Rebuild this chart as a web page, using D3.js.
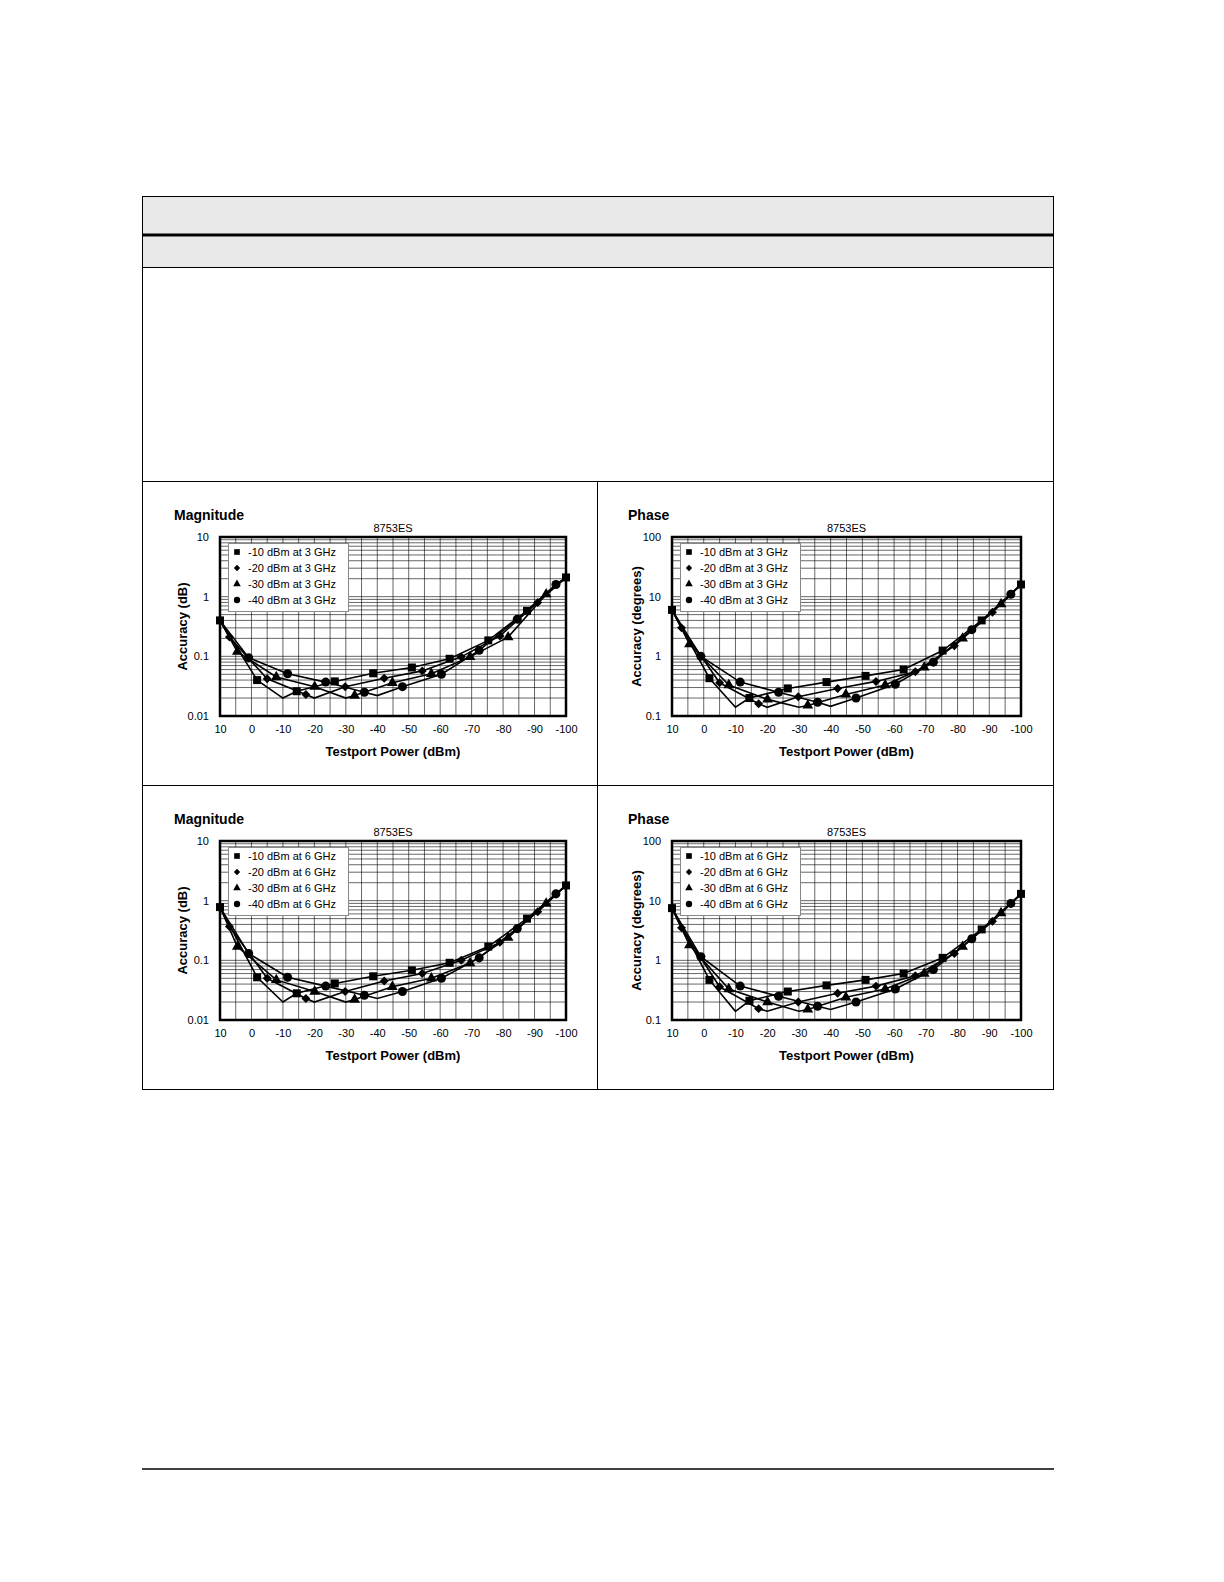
<!DOCTYPE html>
<html><head><meta charset="utf-8">
<script src="https://cdn.jsdelivr.net/npm/d3@7"></script>
<style>
html,body{margin:0;padding:0;overflow:hidden;background:#fff;font-family:Arial,"Liberation Sans",sans-serif;}
svg{display:block;}
svg text{font-family:Arial,"Liberation Sans",sans-serif;}
</style></head><body>
<svg id="page" width="1224" height="1582"></svg>
<script>
// ---- données ----
let xTicks = [10, 0, -10, -20, -30, -40, -50, -60, -70, -80, -90, -100];
let seriesNames = ["-10 dBm", "-20 dBm", "-30 dBm", "-40 dBm"];

// positions x (dBm) de chaque série ; m = point avec marqueur
let xSquare   = [10, -1.8, -10, -14.4, -26.5, -38.7, -51, -63, -75.3, -87.6, -100];
let mSquare   = [1, 1, 0, 1, 1, 1, 1, 1, 1, 1, 1];
let xDiamond  = [10, 7, -5, -17.3, -20, -29.8, -42.2, -54.3, -66.7, -79, -91, -100];
let mDiamond  = [0, 1, 1, 1, 0, 1, 1, 1, 1, 1, 1, 0];
let xTriangle = [10, 4.5, -7.9, -20.1, -30, -32.8, -44.8, -57.2, -69.5, -81.6, -93.7, -100];
let mTriangle = [0, 1, 1, 1, 0, 1, 1, 1, 1, 1, 1, 0];
let xCircle   = [10, 0.9, -11.5, -23.6, -35.9, -40, -48, -60.4, -72.4, -84.5, -96.8, -100];
let mCircle   = [0, 1, 1, 1, 1, 0, 1, 1, 1, 1, 1, 0];

// Magnitude 3 GHz
let mag3Square   = [0.4, 0.04, 0.02, 0.026, 0.038, 0.052, 0.065, 0.091, 0.185, 0.58, 2.1];
let mag3Diamond  = [0.4, 0.21, 0.042, 0.023, 0.02, 0.031, 0.043, 0.057, 0.098, 0.22, 0.8, 2.1];
let mag3Triangle = [0.4, 0.12, 0.045, 0.031, 0.02, 0.022, 0.036, 0.051, 0.098, 0.21, 1.1, 2.1];
let mag3Circle   = [0.4, 0.095, 0.051, 0.037, 0.025, 0.022, 0.031, 0.05, 0.126, 0.42, 1.6, 2.1];
// Phase 3 GHz
let ph3Square   = [6, 0.43, 0.14, 0.2, 0.29, 0.37, 0.47, 0.6, 1.25, 4, 16];
let ph3Diamond  = [6, 3, 0.36, 0.16, 0.14, 0.21, 0.29, 0.38, 0.55, 1.5, 5.5, 16];
let ph3Triangle = [6, 1.6, 0.33, 0.19, 0.14, 0.15, 0.23, 0.33, 0.65, 2.0, 7.5, 16];
let ph3Circle   = [6, 1.0, 0.37, 0.25, 0.17, 0.145, 0.2, 0.34, 0.8, 2.8, 11, 16];
// Magnitude 6 GHz
let mag6Square   = [0.78, 0.052, 0.02, 0.028, 0.041, 0.054, 0.068, 0.091, 0.17, 0.5, 1.8];
let mag6Diamond  = [0.78, 0.37, 0.05, 0.023, 0.02, 0.03, 0.045, 0.06, 0.1, 0.2, 0.65, 1.8];
let mag6Triangle = [0.78, 0.17, 0.047, 0.03, 0.02, 0.022, 0.036, 0.05, 0.09, 0.24, 0.9, 1.8];
let mag6Circle   = [0.78, 0.13, 0.052, 0.037, 0.026, 0.023, 0.03, 0.05, 0.11, 0.34, 1.3, 1.8];
// Phase 6 GHz
let ph6Square   = [7.5, 0.47, 0.14, 0.21, 0.3, 0.38, 0.47, 0.6, 1.1, 3.3, 13];
let ph6Diamond  = [7.5, 3.5, 0.36, 0.155, 0.14, 0.2, 0.28, 0.37, 0.55, 1.3, 4.5, 13];
let ph6Triangle = [7.5, 1.8, 0.33, 0.2, 0.14, 0.15, 0.24, 0.33, 0.6, 1.7, 6.2, 13];
let ph6Circle   = [7.5, 1.15, 0.37, 0.25, 0.17, 0.15, 0.2, 0.33, 0.7, 2.3, 9, 13];

// ---- page ----
let svg = d3.select("#page");

// cadre du tableau
svg.append("rect").attr("x", 142.5).attr("y", 196.5).attr("width", 911).attr("height", 38).attr("fill", "#e8e8e8");
svg.append("rect").attr("x", 142.5).attr("y", 236.5).attr("width", 911).attr("height", 31).attr("fill", "#e8e8e8");
svg.append("rect").attr("x", 142.5).attr("y", 196.5).attr("width", 911).attr("height", 893)
  .attr("fill", "none").attr("stroke", "#000");
svg.append("line").attr("x1", 142).attr("x2", 1054).attr("y1", 235).attr("y2", 235).attr("stroke", "#000").attr("stroke-width", 3);
svg.append("line").attr("x1", 142).attr("x2", 1054).attr("y1", 267.5).attr("y2", 267.5).attr("stroke", "#000");
svg.append("line").attr("x1", 142).attr("x2", 1054).attr("y1", 481.5).attr("y2", 481.5).attr("stroke", "#000");
svg.append("line").attr("x1", 142).attr("x2", 1054).attr("y1", 785.5).attr("y2", 785.5).attr("stroke", "#000");
svg.append("line").attr("x1", 597.5).attr("x2", 597.5).attr("y1", 481).attr("y2", 1089).attr("stroke", "#000");
// ligne de pied de page
svg.append("line").attr("x1", 142).attr("x2", 1054).attr("y1", 1469).attr("y2", 1469).attr("stroke", "#000").attr("stroke-width", 1.5);

// symboles (losange = carré tourné de 45°)
let SYMS = [d3.symbolSquare, d3.symbolSquare, d3.symbolTriangle, d3.symbolCircle];
let ROTS = [0, 45, 0, 0];
let SIZES = [64, 40, 50, 64];

function drawChart(opt){
  let g = svg.append("g");
  let x = d3.scaleLinear().domain([10, -100]).range([opt.left, opt.right]);
  let y = d3.scaleLog().domain(opt.yDomain).range([opt.bottom, opt.top]);

  // grille verticale tous les 5 dBm
  g.selectAll("line.vg").data(d3.range(5, -100, -5)).join("line")
    .attr("x1", d => x(d)).attr("x2", d => x(d))
    .attr("y1", opt.top).attr("y2", opt.bottom)
    .attr("stroke", "#000").attr("stroke-width", 0.6);
  // grille horizontale log
  let minor = [];
  for (let dec = opt.yDomain[0]; dec < opt.yDomain[1]; dec *= 10)
    for (let k = 1; k < 10; k++) minor.push(dec * k);
  g.selectAll("line.hg").data(minor).join("line")
    .attr("x1", opt.left).attr("x2", opt.right)
    .attr("y1", d => y(d)).attr("y2", d => y(d))
    .attr("stroke", "#000").attr("stroke-width", 0.6);

  // axes (labels seulement)
  let ax = g.append("g").attr("transform", `translate(0,${opt.bottom + 6})`)
    .call(d3.axisBottom(x).tickValues(xTicks).tickSize(0).tickFormat(d => d));
  ax.select(".domain").remove();
  ax.selectAll("text").attr("font-size", 11).attr("fill", "#000");
  let yTicks = [];
  for (let v = opt.yDomain[0]; v <= opt.yDomain[1] * 1.001; v *= 10) yTicks.push(v);
  let ay = g.append("g").attr("transform", `translate(${opt.left - 8},0)`)
    .call(d3.axisLeft(y).tickValues(yTicks).tickSize(0).tickFormat(d => +d.toPrecision(1)));
  ay.select(".domain").remove();
  ay.selectAll("text").attr("font-size", 11).attr("fill", "#000");

  // séries
  let line = d3.line().x(d => x(d[0])).y(d => y(d[1]));
  opt.series.forEach((s, i) => {
    let pts = s.xs.map((xv, j) => [xv, s.ys[j], s.ms[j]]);
    g.append("path").attr("d", line(pts)).attr("fill", "none")
      .attr("stroke", "#000").attr("stroke-width", 1.6);
    g.selectAll(null).data(pts.filter(p => p[2])).join("path")
      .attr("transform", p => `translate(${x(p[0])},${y(p[1])}) rotate(${ROTS[i]})`)
      .attr("d", d3.symbol().type(SYMS[i]).size(SIZES[i]))
      .attr("fill", "#000");
  });

  // cadre du graphe
  g.append("rect").attr("x", opt.left).attr("y", opt.top)
    .attr("width", opt.right - opt.left).attr("height", opt.bottom - opt.top)
    .attr("fill", "none").attr("stroke", "#000").attr("stroke-width", 2.5);

  // légende
  let lg = g.append("g");
  lg.append("rect").attr("x", opt.left + 8.5).attr("y", opt.top + 6.5)
    .attr("width", 120).attr("height", 68).attr("fill", "#fff").attr("stroke", "#888");
  seriesNames.forEach((n, i) => {
    let yy = opt.top + 15 + i * 16;
    lg.append("path").attr("transform", `translate(${opt.left + 17},${yy}) rotate(${ROTS[i]})`)
      .attr("d", d3.symbol().type(SYMS[i]).size(SIZES[i] * 0.5)).attr("fill", "#000");
    lg.append("text").attr("x", opt.left + 28).attr("y", yy + 4)
      .attr("font-size", 11).text(`${n} at ${opt.ghz} GHz`);
  });

  // titres
  g.append("text").attr("x", opt.titleX).attr("y", opt.top - 17)
    .attr("font-size", 14).attr("font-weight", "bold").text(opt.title);
  g.append("text").attr("x", (opt.left + opt.right) / 2).attr("y", opt.top - 5)
    .attr("font-size", 11).attr("text-anchor", "middle").text("8753ES");
  g.append("text").attr("x", (opt.left + opt.right) / 2).attr("y", opt.bottom + 40)
    .attr("font-size", 13).attr("font-weight", "bold").attr("text-anchor", "middle")
    .text("Testport Power (dBm)");
  g.append("text")
    .attr("transform", `translate(${opt.titleX + 13},${(opt.top + opt.bottom) / 2}) rotate(-90)`)
    .attr("font-size", 13).attr("font-weight", "bold").attr("text-anchor", "middle")
    .text(opt.yTitle);
}

function mk(sq, di, tr, ci){
  return [
    { xs: xSquare, ms: mSquare, ys: sq },
    { xs: xDiamond, ms: mDiamond, ys: di },
    { xs: xTriangle, ms: mTriangle, ys: tr },
    { xs: xCircle, ms: mCircle, ys: ci }
  ];
}

drawChart({ left: 220, right: 566, top: 537, bottom: 716, titleX: 174, title: "Magnitude",
  yTitle: "Accuracy (dB)", yDomain: [0.01, 10], ghz: 3,
  series: mk(mag3Square, mag3Diamond, mag3Triangle, mag3Circle) });
drawChart({ left: 672, right: 1021, top: 537, bottom: 716, titleX: 628, title: "Phase",
  yTitle: "Accuracy (degrees)", yDomain: [0.1, 100], ghz: 3,
  series: mk(ph3Square, ph3Diamond, ph3Triangle, ph3Circle) });
drawChart({ left: 220, right: 566, top: 841, bottom: 1020, titleX: 174, title: "Magnitude",
  yTitle: "Accuracy (dB)", yDomain: [0.01, 10], ghz: 6,
  series: mk(mag6Square, mag6Diamond, mag6Triangle, mag6Circle) });
drawChart({ left: 672, right: 1021, top: 841, bottom: 1020, titleX: 628, title: "Phase",
  yTitle: "Accuracy (degrees)", yDomain: [0.1, 100], ghz: 6,
  series: mk(ph6Square, ph6Diamond, ph6Triangle, ph6Circle) });
</script>
</body></html>
